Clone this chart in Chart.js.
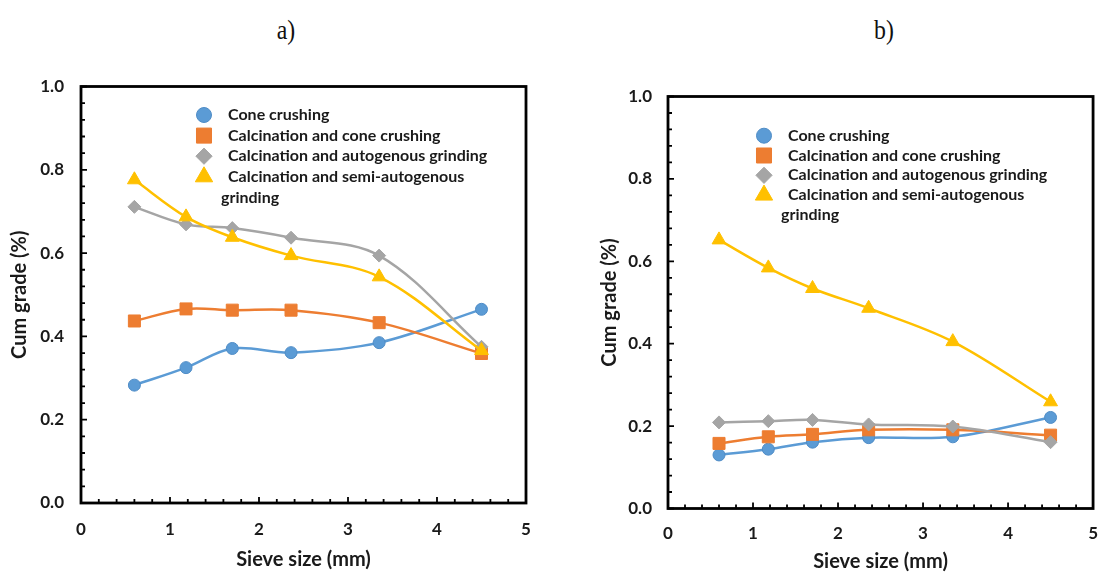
<!DOCTYPE html>
<html>
<head>
<meta charset="utf-8">
<title>Cum grade vs sieve size</title>
<script src="https://cdn.jsdelivr.net/npm/chart.js@4.4.0/dist/chart.umd.min.js"></script>
<style>
  html, body { margin: 0; padding: 0; background: #fff; }
  body { width: 1113px; height: 572px; position: relative; overflow: hidden; }
  .panel { position: absolute; top: 0; height: 572px; }
  #panelA { left: 0; width: 560px; }
  #panelB { left: 560px; width: 553px; }
  .tag {
    position: absolute; top: 14px;
    font-family: "Liberation Serif", "Times New Roman", serif;
    font-size: 28px; color: #111;
    transform: translateX(-50%) scaleX(0.85);
  }
</style>
</head>
<body>
<div class="tag" style="left:286px">a)</div>
<div class="tag" style="left:884px">b)</div>
<div class="panel" id="panelA"><canvas id="chartA"></canvas></div>
<div class="panel" id="panelB"><canvas id="chartB"></canvas></div>

<script>
// DATA
const sieveSizes = [0.6, 1.18, 1.7, 2.36, 3.35, 4.5];

const seriesNames = [
  'Cone crushing',
  'Calcination and cone crushing',
  'Calcination and autogenous grinding',
  'Calcination and semi-autogenous grinding',
];

// panel a)
const coneCrushingA = [0.283, 0.325, 0.371, 0.361, 0.385, 0.465];
const calcConeA     = [0.437, 0.466, 0.463, 0.463, 0.433, 0.359];
const calcAutoA     = [0.711, 0.669, 0.660, 0.637, 0.594, 0.375];
const calcSemiA     = [0.776, 0.687, 0.638, 0.594, 0.543, 0.366];

// panel b)
const coneCrushingB = [0.130, 0.144, 0.161, 0.172, 0.174, 0.221];
const calcConeB     = [0.158, 0.174, 0.180, 0.191, 0.191, 0.178];
const calcAutoB     = [0.209, 0.212, 0.215, 0.204, 0.199, 0.161];
const calcSemiB     = [0.652, 0.584, 0.534, 0.486, 0.405, 0.259];

// STYLES
const seriesColors = ['#5B9BD5', '#ED7D31', '#A5A5A5', '#FFC000'];
const markerEdges  = ['#4F8CC6', '#ED7D31', '#A5A5A5', '#FFC000'];
const markerStyles = ['circle', 'rect', 'rectRot', 'triangle'];
const markerSizes  = [6, 8.5, 6.5, 8];

const textColor = '#1a1a1a';
const fontFamily = 'Lato, "Open Sans", sans-serif';


// box around the plot plus the small inward ticks
const frameAndTicks = {
  id: 'frameAndTicks',
  afterDatasetsDraw(chart) {
    const { ctx, chartArea: a, scales: { x, y } } = chart;
    ctx.save();
    ctx.strokeStyle = '#000';
    ctx.lineWidth = 1.8;
    ctx.beginPath();
    for (let i = 0; i <= 25; i++) {
      const py = y.getPixelForValue(i * 0.04);
      const len = i % 5 === 0 ? 6 : 4;
      ctx.moveTo(a.left, py);
      ctx.lineTo(a.left + len, py);
      const px = x.getPixelForValue(i * 0.2);
      ctx.moveTo(px, a.bottom);
      ctx.lineTo(px, a.bottom - len);
    }
    ctx.stroke();
    ctx.lineWidth = 2.8;
    ctx.strokeRect(a.left, a.top, a.right - a.left, a.bottom - a.top);
    ctx.restore();
  }
};

// legend drawn inside the plot, long names wrap onto a second line
const insideLegend = {
  id: 'insideLegend',
  afterDraw(chart, args, opts) {
    const ctx = chart.ctx;
    ctx.save();
    ctx.font = 'bold 16px ' + fontFamily;
    ctx.textBaseline = 'middle';
    let row = 0;
    chart.data.datasets.forEach(ds => {
      const cy = opts.y + row * opts.rowHeight;
      ctx.fillStyle = ds.pointBackgroundColor;
      ctx.strokeStyle = ds.pointBorderColor;
      Chart.helpers.drawPoint(ctx, {
        pointStyle: ds.pointStyle,
        radius: ds.pointRadius * 1.25,
        borderWidth: 1,
        rotation: 0
      }, opts.markerX, cy);

      // split the label into lines no wider than maxWidth
      const words = ds.label.split(' ');
      const lines = [];
      let line = '';
      words.forEach(w => {
        const test = line ? line + ' ' + w : w;
        if (line && ctx.measureText(test).width > opts.maxWidth) {
          lines.push(line);
          line = w;
        } else {
          line = test;
        }
      });
      lines.push(line);

      ctx.fillStyle = textColor;
      lines.forEach((t, k) => {
        const tx = k === 0 ? opts.textX : opts.textX - 7;
        ctx.fillText(t, tx, opts.y + (row + k) * opts.rowHeight);
      });
      row += lines.length;
    });
    ctx.restore();
  }
};


function buildChart(canvasId, series, box) {
  const datasets = seriesNames.map((name, i) => ({
    label: name,
    data: sieveSizes.map((s, k) => ({ x: s, y: series[i][k] })),
    borderColor: seriesColors[i],
    backgroundColor: seriesColors[i],
    pointBackgroundColor: seriesColors[i],
    pointBorderColor: markerEdges[i],
    pointBorderWidth: 1,
    pointStyle: markerStyles[i],
    pointRadius: markerSizes[i],
    pointHoverRadius: markerSizes[i],
    borderWidth: 2.5,
    tension: 0.35,
    // last series ends up on top, like the original workbook
    order: seriesNames.length - i,
  }));

  const tickFont = { family: fontFamily, weight: 'bold', size: 17 };
  const titleFont = { family: fontFamily, weight: 'bold', size: 20, lineHeight: 1 };

  return new Chart(document.getElementById(canvasId), {
    type: 'line',
    data: { datasets },
    options: {
      responsive: true,
      maintainAspectRatio: false,
      animation: false,
      layout: { padding: { top: box.padTop, right: box.padRight, left: 0, bottom: 0 } },
      plugins: {
        legend: { display: false },
        tooltip: { enabled: false },
        insideLegend: box.legend,
      },
      scales: {
        x: {
          type: 'linear',
          min: 0, max: 5,
          grid: { display: false, drawTicks: false },
          border: { display: false },
          ticks: { stepSize: 1, padding: box.xTickPad, color: textColor, font: tickFont },
          title: {
            display: true, text: 'Sieve size (mm)', color: textColor, font: titleFont,
            padding: { top: 0, bottom: box.xTitlePad }
          },
          afterFit: s => { s.height = box.xHeight; }
        },
        y: {
          min: 0, max: 1,
          grid: { display: false, drawTicks: false },
          border: { display: false },
          ticks: {
            stepSize: 0.2, padding: box.yTickPad, color: textColor, font: tickFont,
            callback: v => v.toFixed(1)
          },
          title: {
            display: true, text: 'Cum grade (%)', color: textColor, font: titleFont,
            padding: { top: box.yTitlePad, bottom: 0 }
          },
          afterFit: s => { s.width = box.yWidth; }
        }
      }
    },
    plugins: [frameAndTicks, insideLegend]
  });
}

const chartA = buildChart('chartA', [coneCrushingA, calcConeA, calcAutoA, calcSemiA], {
  padTop: 86.5, padRight: 34, yWidth: 81, xHeight: 69,
  yTitlePad: 10, yTickPad: 17, xTickPad: 16, xTitlePad: 2,
  legend: { markerX: 204, textX: 228, y: 115, rowHeight: 20.6, maxWidth: 275 }
});

const chartB = buildChart('chartB', [coneCrushingB, calcConeB, calcAutoB, calcSemiB], {
  padTop: 96.5, padRight: 5, yWidth: 108, xHeight: 63.5,
  yTitlePad: 40, yTickPad: 16, xTickPad: 15, xTitlePad: 0,
  legend: { markerX: 204, textX: 228, y: 135.7, rowHeight: 19.8, maxWidth: 275 }
});
</script>
</body>
</html>
